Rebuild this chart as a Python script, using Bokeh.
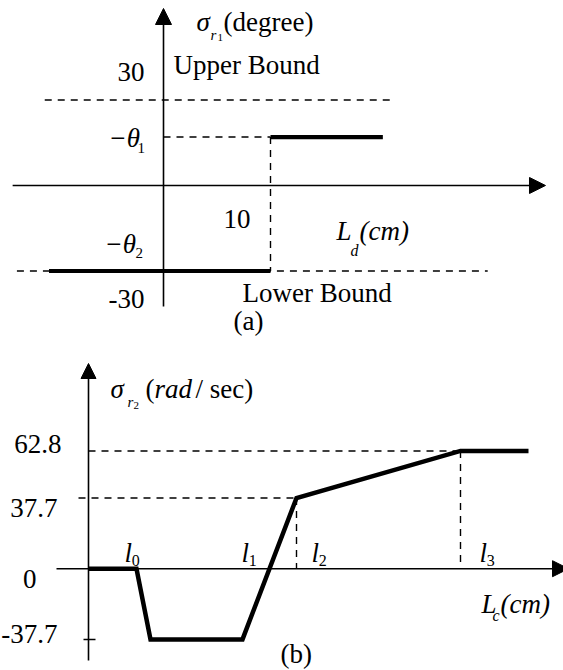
from bokeh.plotting import figure
from bokeh.layouts import column
from bokeh.models import Arrow, NormalHead, Range1d
from bokeh.core.properties import value
from bokeh.embed import file_html
from bokeh.resources import INLINE

FONT = "'Liberation Serif', 'Times New Roman', serif"

# ---- (a) steering reference sigma_r1 versus L_d ----
upper_bound = 30.0          # degree
lower_bound = -30.0         # degree
theta1_level = 17.0         # level of -theta_1
ld_switch = 10.0            # cm
ld_low = [-10.7, ld_switch]
sig1_low = [lower_bound, lower_bound]
ld_high = [ld_switch, 20.5]
sig1_high = [theta1_level, theta1_level]

# ---- (b) sigma_r2 versus L_c ----
lc = [0.0, 4.8, 6.2, 15.4, 20.8, 37.2, 44.0]
sigma2 = [0.0, 0.0, -37.7, -37.7, 37.7, 62.8, 62.8]
l_marks = [4.8, 17.8, 20.8, 37.2]          # l0..l3
l_names = ["0", "1", "2", "3"]
level_labels = ["62.8", "37.7", "0", "-37.7"]


def make_fig(h, xr, yr):
    p = figure(width=563, height=h, x_range=Range1d(*xr), y_range=Range1d(*yr),
               output_backend="svg", toolbar_location=None,
               x_axis_type=None, y_axis_type=None, min_border=0)
    p.outline_line_color = None
    p.background_fill_color = "white"
    p.border_fill_color = "white"
    return p


def put(p, x, y, s, size=27, italic=False, align="left"):
    # lift the glyph so that y acts as the baseline of the text
    p.text(x=[x], y=[y], text=[s], text_font=value(FONT),
           text_font_size=f"{size}px",
           text_font_style="italic" if italic else "normal",
           text_align=align, text_baseline="alphabetic", text_color="black",
           y_offset=-0.34 * size)


def axis_arrow(p, x0, y0, x1, y1, head):
    p.add_layout(Arrow(x_start=x0, y_start=y0, x_end=x1, y_end=y1,
                       line_width=1.6, line_color="black",
                       end=NormalHead(size=head, fill_color="black",
                                      line_color="black", line_width=1)))


DASH = dict(line_color="black", line_width=1.4, line_dash="7 6")
SOLID = dict(line_color="black", line_width=4.2, line_cap="butt")

# ================= panel (a) =================
pa = make_fig(340, (-15.234, 37.383), (-54.39, 64.91))

axis_arrow(pa, -14.1, 0, 35.7, 0, 16)
axis_arrow(pa, 0, -42.5, 0, 62.1, 16)

pa.line([-11.1, 21.7], [upper_bound, upper_bound], **DASH)
pa.line([0, ld_switch], [theta1_level, theta1_level], **DASH)
pa.line([ld_switch, ld_switch], [theta1_level, lower_bound], **DASH)
pa.line([-13.7, 30.3], [lower_bound, lower_bound], **DASH)

pa.line(ld_low, sig1_low, **SOLID)
pa.line(ld_high, sig1_high, **SOLID)

put(pa, 3.08, 54.04, "σ", italic=True)
put(pa, 4.39, 50.88, "r", size=15, italic=True)
put(pa, 5.05, 50.53, "1", size=11)
put(pa, 5.61, 54.04, "(degree)")
put(pa, -1.78, 36.49, "30", align="right")
put(pa, 0.93, 38.95, "Upper Bound")
put(pa, -5.14, 13.33, "−θ", italic=True)
put(pa, -2.43, 11.23, "1", size=15)
put(pa, 5.61, -15.09, "10")
put(pa, 16.17, -19.30, "L", italic=True)
put(pa, 17.48, -24.56, "d", size=16, italic=True)
put(pa, 18.32, -19.30, "(cm)", italic=True)
put(pa, -5.51, -23.86, "−θ", italic=True)
put(pa, -2.62, -25.61, "2", size=15)
put(pa, -1.78, -43.16, "-30", align="right")
put(pa, 7.38, -41.05, "Lower Bound")
put(pa, 6.54, -50.88, "(a)")

# ================= panel (b) =================
pb = make_fig(330, (-8.8, 47.5), (-54.29, 121.71))

axis_arrow(pb, -3.2, 0, 48.0, 0, 16)
axis_arrow(pb, 0, -48.96, 0, 109.44, 15)

pb.line([0, lc[5]], [sigma2[5], sigma2[5]], **DASH)
pb.line([lc[5], lc[5]], [sigma2[5], 0], **DASH)
pb.line([-1.0, lc[4]], [sigma2[4], sigma2[4]], **DASH)
pb.line([lc[4], lc[4]], [sigma2[4], 0], **DASH)
pb.line([-0.5, 0.7], [sigma2[2], sigma2[2]], line_color="black", line_width=1.5)

pb.line(lc, sigma2, line_color="black", line_width=4.5, line_join="miter")

put(pb, 2.2, 90.77, "σ", italic=True)
put(pb, 3.9, 85.97, "r", size=15, italic=True)
put(pb, 4.5, 84.91, "2", size=11)
put(pb, 5.7, 90.77, "(")
put(pb, 6.6, 90.77, "rad", italic=True)
put(pb, 10.7, 90.77, "/ sec)")

for lab, (xx, yy) in zip(level_labels, [(-2.7, 61.44), (-3.1, 27.31),
                                        (-5.2, -10.56), (-3.1, -39.89)]):
    put(pb, xx, yy, lab, align="right")

for xm, nm, dx in zip(l_marks, l_names, [-1.2, -2.5, 1.5, 1.9]):
    put(pb, xm + dx, 3.31, "l", italic=True)
    put(pb, xm + dx + 0.72, 1.71, nm, size=16)

put(pb, 39.3, -23.89, "L", italic=True)
put(pb, 40.4, -27.63, "c", size=16, italic=True)
put(pb, 41.2, -23.89, "(cm)", italic=True)
put(pb, 19.2, -50.24, "(b)")

layout = column(pa, pb, spacing=0)
open("out.html", "w").write(file_html(layout, INLINE))
